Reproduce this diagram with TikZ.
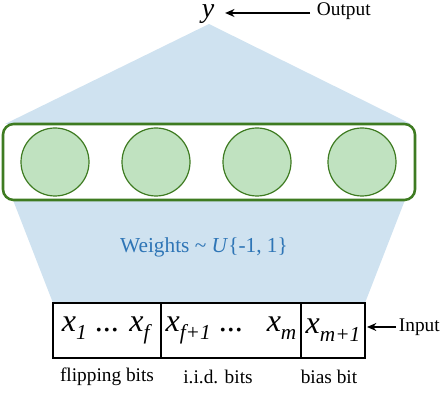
\documentclass[tikz,border=0pt]{standalone}
\usepackage{fontspec}
\setmainfont{Liberation Serif}
\usepackage{tikz}
\usetikzlibrary{arrows.meta}
\usetikzlibrary{positioning, calc}
\definecolor{fanblue}{RGB}{207,226,240}
\definecolor{weightblue}{RGB}{46,117,182}
\definecolor{cellgreen}{RGB}{192,226,192}
\definecolor{layergreen}{RGB}{62,123,33}
\tikzstyle{neuron} = [circle,draw=layergreen,fill=cellgreen,line width=0.9pt,minimum size=51pt,inner sep=0pt]
\tikzstyle{layer} = [draw=layergreen,rounded corners=8pt,line width=1.9pt,fill=white,minimum width=309pt,minimum height=57pt]
\tikzstyle{cell} = [draw,line width=1.5pt,minimum height=41pt,inner sep=0pt,outer sep=0pt,font=\fontsize{24}{26}\selectfont]
\tikzstyle{tag} = [font=\fontsize{14.5}{16}\selectfont]
\tikzstyle{connector} = [-{Stealth[length=7pt,width=6pt]},line width=1.1pt]
\newcommand{\xsub}[1]{\textit{x}\raisebox{-0.55ex}{\fontsize{16}{18}\selectfont\textit{#1}}}

\begin{document}
\begin{tikzpicture}[x=0.75pt,y=-0.75pt]
\useasboundingbox (0,0) rectangle (440,416);
% the fan behind the layer
\fill[fanblue] (209,24) -- (5,124) -- (411,124) -- cycle;
\fill[fanblue] (13,200) -- (405,200) -- (365,303) -- (53,303) -- cycle;

\node[layer] (hidden) at (209,162) {};
\node[neuron] (n1) at (55,162) {};
\node[neuron] (n2) at (156,162) {};
\node[neuron] (n3) at (257,162) {};
\node[neuron] (n4) at (362,162) {};

\node[text=weightblue, font=\fontsize{16}{18}\selectfont] (weights) at (204,247)
  {Weights \textasciitilde{} \textit{U}\{-1, 1\}};

% output
\node[anchor=base, font=\fontsize{21}{24}\selectfont, inner sep=0pt] (y) at (208,18) {\textit{y}};
\node[tag, anchor=west, inner sep=2pt] (outlbl) at (314,11) {Output};

% input bits
\node[cell, minimum width=81pt] (c1) at (107,330.5) {\xsub{1} ... \xsub{f}};
\node[cell, minimum width=105pt, right=0pt of c1] (c2) {\xsub{f+1} ...\ \ \ \xsub{m}};
\node[cell, minimum width=48pt, right=0pt of c2] (c3) {\xsub{m+1}};
\node[tag, anchor=west, inner sep=2pt] (inlbl) at (396,327) {Input};

\node[tag] (flip) at (107,377) {flipping bits};
\node[tag] (iid) at (218,377) {i.i.d. bits};
\node[tag] (bias) at (329,377) {bias bit};

% now link the nodes
\draw [connector] ($(outlbl.west)+(-3pt,-1.5pt)$) -- ($(outlbl.west -| y.east)+(8pt,-1.5pt)$);
\draw [connector] (inlbl.west) -- ($(inlbl.west -| c3.east)+(1.5pt,0)$);
\end{tikzpicture}
\end{document}
